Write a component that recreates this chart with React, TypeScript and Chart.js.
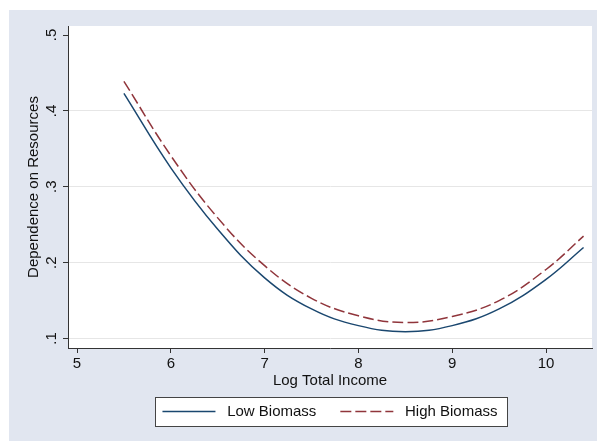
import React, { useEffect, useRef } from "react";
import { Chart, registerables } from "chart.js";

Chart.register(...registerables);

// ---- data ----
const incomeX = [5.5, 6, 6.5, 7, 7.5, 8, 8.5, 9, 9.5, 10, 10.4];
const lowBiomass = [0.423, 0.325, 0.244, 0.18, 0.139, 0.117, 0.109, 0.117, 0.139, 0.178, 0.22];
const highBiomass = [0.439, 0.341, 0.259, 0.196, 0.153, 0.13, 0.121, 0.129, 0.15, 0.191, 0.235];
const seriesNames = ["Low Biomass", "High Biomass"];
const xTicks = [5, 6, 7, 8, 9, 10];
const xTickLabels = ["5", "6", "7", "8", "9", "10"];
const yTicks = [0.1, 0.2, 0.3, 0.4, 0.5];
const yTickLabels = [".1", ".2", ".3", ".4", ".5"];
const xTitle = "Log Total Income";
const yTitle = "Dependence on Resources";

const FONT = '"Liberation Sans", Arial, sans-serif';
const BG = "rgb(225,230,240)";
const TEXT = "#111";
const AXIS = "#333";

const bgPlugin = {
  id: "stataBg",
  beforeDraw(chart: any) {
    const { ctx, chartArea: a, width, height } = chart;
    ctx.save();
    ctx.fillStyle = BG;
    ctx.fillRect(0, 0, width, height);
    ctx.fillStyle = "#fff";
    ctx.fillRect(a.left, a.top, a.right - a.left, a.bottom - a.top);
    const lg = chart.legend;
    if (lg && lg.legendHitBoxes && lg.legendHitBoxes.length) {
      const hb = lg.legendHitBoxes;
      const first = hb[0];
      const last = hb[hb.length - 1];
      const cy = first.top + 7.5;
      const l = Math.round(first.left - 7) + 0.5;
      const r = Math.round(last.left + last.width + 9) + 0.5;
      const t = Math.round(cy - 14.5) + 0.5;
      const b = Math.round(cy + 14.5) + 0.5;
      ctx.fillStyle = "#fff";
      ctx.fillRect(l, t, r - l, b - t);
      ctx.strokeStyle = "#444";
      ctx.lineWidth = 1;
      ctx.strokeRect(l, t, r - l, b - t);
    }
    ctx.restore();
  },
};

export default function App() {
  const ref = useRef<HTMLCanvasElement | null>(null);

  useEffect(() => {
    document.body.style.overflow = "hidden";
    const canvas = ref.current;
    if (!canvas) return;
    const font = { family: FONT, size: 15 };
    const chart = new Chart(canvas, {
      type: "line",
      data: {
        datasets: [
          {
            label: seriesNames[0],
            data: incomeX.map((x, i) => ({ x, y: lowBiomass[i] })),
            borderColor: "#1a476f",
            backgroundColor: "transparent",
            borderWidth: 1.5,
            pointRadius: 0,
            fill: false,
            tension: 0.4,
          },
          {
            label: seriesNames[1],
            data: incomeX.map((x, i) => ({ x, y: highBiomass[i] })),
            borderColor: "#90353b",
            backgroundColor: "transparent",
            borderWidth: 1.5,
            borderDash: [11, 4],
            pointRadius: 0,
            fill: false,
            tension: 0.4,
          },
        ],
      },
      options: {
        animation: false,
        responsive: false,
        devicePixelRatio: 1,
        layout: { padding: { top: 16, right: 5, bottom: 12, left: 0 } },
        plugins: {
          tooltip: { enabled: false },
          legend: {
            position: "bottom",
            fullSize: false,
            labels: {
              font,
              color: TEXT,
              usePointStyle: true,
              pointStyle: "line",
              pointStyleWidth: 53,
              boxHeight: 15,
              padding: 24,
              generateLabels: (c: any) =>
                (Chart.defaults.plugins.legend.labels as any)
                  .generateLabels(c)
                  .map((l: any) => {
                    const ds = c.data.datasets[l.datasetIndex];
                    return {
                      ...l,
                      text: " " + l.text,
                      pointStyle: "line",
                      strokeStyle: ds.borderColor,
                      lineWidth: ds.borderWidth,
                      lineDash: ds.borderDash || [],
                    };
                  }),
            },
          },
        },
        scales: {
          x: {
            type: "linear",
            min: 4.904,
            max: 10.49,
            afterBuildTicks: (s: any) => {
              s.ticks = xTicks.map((v) => ({ value: v }));
            },
            afterFit: (s: any) => {
              s.height = 32;
            },
            ticks: {
              color: TEXT,
              font,
              padding: 2,
              maxRotation: 0,
              callback: (v: any) => xTickLabels[xTicks.indexOf(v)],
            },
            grid: {
              drawOnChartArea: false,
              drawTicks: true,
              tickLength: 5,
              tickColor: AXIS,
            },
            border: { display: true, color: AXIS, width: 1 },
            title: {
              display: true,
              text: xTitle,
              color: TEXT,
              font,
              padding: { top: 0, bottom: -10 },
            },
          },
          y: {
            type: "linear",
            min: 0.0875,
            max: 0.5119,
            afterBuildTicks: (s: any) => {
              s.ticks = yTicks.map((v) => ({ value: v }));
            },
            afterFit: (s: any) => {
              s.width = 59;
            },
            ticks: {
              color: TEXT,
              font,
              minRotation: 90,
              maxRotation: 90,
              crossAlign: "center",
              padding: 5,
              callback: (v: any) => yTickLabels[yTicks.indexOf(v)],
            },
            grid: {
              color: (c: any) =>
                c.tick && c.tick.value === 0.5 ? "rgba(0,0,0,0)" : "#e6e6e6",
              tickColor: AXIS,
              tickLength: 5,
              lineWidth: 1,
            },
            border: { display: true, color: AXIS, width: 1 },
            title: {
              display: true,
              text: yTitle,
              color: TEXT,
              font,
              padding: { top: 16, bottom: 0 },
            },
          },
        },
      } as any,
      plugins: [bgPlugin],
    });
    return () => chart.destroy();
  }, []);

  return (
    <div style={{ position: "absolute", left: 9, top: 10, width: 588, height: 431 }}>
      <canvas ref={ref} width={588} height={431} style={{ width: 588, height: 431, display: "block" }} />
    </div>
  );
}
